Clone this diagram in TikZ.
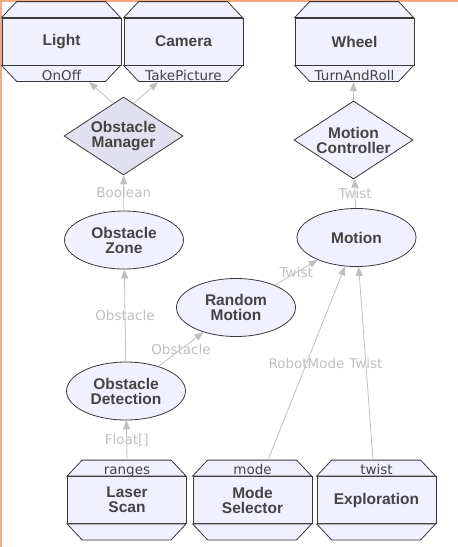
\documentclass[tikz,border=0pt]{standalone}
\usepackage{fontspec}
\usepackage{tikz}
\usetikzlibrary{shapes.geometric,arrows.meta,calc}
\newfontfamily\titlefont{Liberation Sans}
\newfontfamily\labelfont{DejaVu Sans}
\definecolor{boxfill}{RGB}{240,240,255}
\definecolor{mgrfill}{RGB}{224,224,240}
\definecolor{linecol}{RGB}{56,56,56}
\definecolor{edgecol}{RGB}{192,192,192}
\definecolor{textcol}{RGB}{68,68,68}
\definecolor{framecol}{RGB}{246,168,130}

\begin{document}
\begin{tikzpicture}[
x=1pt, y=-1pt,
compbox/.style={rectangle, draw=linecol, fill=boxfill, line width=0.8pt, minimum width=119, minimum height=47, inner sep=0pt, align=center, text=textcol, font=\titlefont\bfseries\fontsize{15.5}{15}\selectfont},
chamfer/.style={draw=linecol, fill=boxfill, line width=0.8pt},
roundnode/.style={ellipse, draw=linecol, fill=boxfill, line width=0.8pt, minimum width=119, minimum height=58, inner sep=0pt, align=center, text=textcol, font=\titlefont\bfseries\fontsize{15.5}{15}\selectfont},
decisionnode/.style={diamond, aspect=1.5, draw=linecol, fill=boxfill, line width=0.8pt, minimum width=119, minimum height=78, inner sep=0pt, align=center, text=textcol, font=\titlefont\bfseries\fontsize{15.5}{15}\selectfont},
port/.style={anchor=base, inner sep=0pt, text=textcol, font=\labelfont\fontsize{13.5}{14}\selectfont},
elabel/.style={inner sep=0pt, text=edgecol, font=\labelfont\fontsize{13.5}{14}\selectfont},
flow/.style={draw=edgecol, line width=0.8pt, -{Triangle[length=9pt,width=7pt]}},
]
\useasboundingbox (0,0) rectangle (458,547);
\draw[framecol, line width=1.5pt] (0.75,547) -- (0.75,0.75) -- (458,0.75);

%Nodes
\node[compbox]      (light)      at (61.5,41.5)  {Light};
\node[compbox]      (camera)     at (183.5,41.5) {Camera};
\node[compbox]      (wheel)      at (354.5,41.5) {Wheel};
\node[decisionnode, fill=mgrfill] (om) at (123.5,136) {Obstacle\\Manager};
\node[decisionnode] (mc)         at (353.5,140)  {Motion\\Controller};
\node[roundnode]    (oz)         at (124,240)    {Obstacle\\Zone};
\node[roundnode]    (motion)     at (356.5,237.5) {Motion};
\node[roundnode]    (rm)         at (236,307.5)  {Random\\Motion};
\node[roundnode]    (od)         at (126,391)    {Obstacle\\Detection};
\node[compbox]      (laser)      at (127,500)    {Laser\\Scan};
\node[compbox]      (mode)       at (252.5,500)  {Mode\\Selector};
\node[compbox]      (explore)    at (376.5,500)  {Exploration};

%Chamfers
\filldraw[chamfer] (light.north west) -- ++(15,-16) -- ++(89,0) -- ++(15,16) -- cycle;
\filldraw[chamfer] (light.south west) -- ++(15,16) -- ++(89,0) -- ++(15,-16) -- cycle;
\filldraw[chamfer] (camera.north west) -- ++(15,-16) -- ++(89,0) -- ++(15,16) -- cycle;
\filldraw[chamfer] (camera.south west) -- ++(15,16) -- ++(89,0) -- ++(15,-16) -- cycle;
\filldraw[chamfer] (wheel.north west) -- ++(15,-16) -- ++(89,0) -- ++(15,16) -- cycle;
\filldraw[chamfer] (wheel.south west) -- ++(15,16) -- ++(89,0) -- ++(15,-16) -- cycle;
\filldraw[chamfer] (laser.north west) -- ++(15,-16) -- ++(89,0) -- ++(15,16) -- cycle;
\filldraw[chamfer] (laser.south west) -- ++(15,16) -- ++(89,0) -- ++(15,-16) -- cycle;
\filldraw[chamfer] (mode.north west) -- ++(15,-16) -- ++(89,0) -- ++(15,16) -- cycle;
\filldraw[chamfer] (mode.south west) -- ++(15,16) -- ++(89,0) -- ++(15,-16) -- cycle;
\filldraw[chamfer] (explore.north west) -- ++(15,-16) -- ++(89,0) -- ++(15,16) -- cycle;
\filldraw[chamfer] (explore.south west) -- ++(15,16) -- ++(89,0) -- ++(15,-16) -- cycle;

%Ports
\node[port]         (onoff)      at (61.5,80)    {OnOff};
\node[port]         (takepic)    at (183.5,80)   {TakePicture};
\node[port]         (turnroll)   at (354.5,80)   {TurnAndRoll};
\node[port]         (ranges)     at (127,474.5)  {ranges};
\node[port]         (modeport)   at (252.5,474.5) {mode};
\node[port]         (twistport)  at (376.5,474.5) {twist};

\coordinate (onoffin)    at (89,82);
\coordinate (takepicin)  at (158,82);
\coordinate (turnrollin) at (353.5,82);
\coordinate (rangesout)  at (127,460);
\coordinate (modeout)    at (268,460);
\coordinate (twistout)   at (373,460);

%Lines
\draw[flow] ($(om.north)!0.17!(om.west)$) -- (onoffin);
\draw[flow] ($(om.north)!0.17!(om.east)$) -- (takepicin);
\draw[flow] (mc) -- (turnrollin);
\draw[flow] (oz) -- node[elabel] {Boolean} (om);
\draw[flow] (motion) -- node[elabel] {Twist} (mc);
\draw[flow] (od) -- node[elabel] {Obstacle} (oz);
\draw[flow] (od) -- node[elabel] {Obstacle} (rm);
\draw[flow] (rm) -- node[elabel] {Twist} (motion);
\draw[flow] (rangesout) -- node[elabel] {Float[]} (od);
\draw[flow] (modeout) -- node[elabel] {RobotMode} (motion);
\draw[flow] (twistout) -- node[elabel] {Twist} (motion);

\end{tikzpicture}
\end{document}
